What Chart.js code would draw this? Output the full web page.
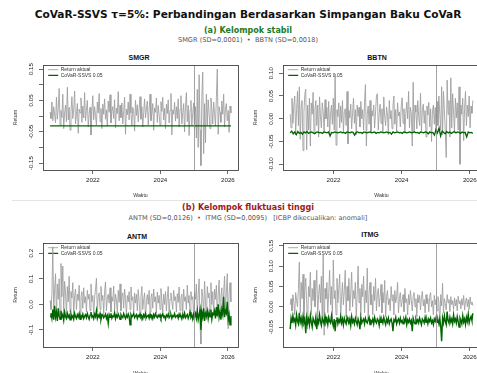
<!DOCTYPE html>
<html><head><meta charset="utf-8">
<script src="https://cdn.jsdelivr.net/npm/chart.js@4.4.1/dist/chart.umd.min.js"></script>
<style>
html,body{margin:0;padding:0;width:477px;height:373px;overflow:hidden;background:#fff;position:relative}
.t{position:absolute;left:0;width:496px;text-align:center;white-space:nowrap;font-family:"DejaVu Sans",sans-serif}
.pt{position:absolute;width:80px;text-align:center;font-family:"Liberation Sans",Arial,sans-serif;font-weight:bold;font-size:7px;line-height:8px;color:#111}
canvas{position:absolute}
#sep{position:absolute;left:12px;right:0;top:200px;height:1px;background:#e4e4e4}
</style></head><body>
<div class="t" style="top:7px;font-size:10.6px;line-height:14px;font-weight:bold;color:#111">CoVaR-SSVS τ=5%: Perbandingan Berdasarkan Simpangan Baku CoVaR</div>
<div class="t" style="top:25px;font-size:8px;line-height:11px;font-weight:bold;color:#1f7a1f">(a) Kelompok stabil</div>
<div class="t" style="top:36px;font-size:6.6px;line-height:9px;color:#555">SMGR (SD=0,0001) &nbsp;•&nbsp; BBTN (SD=0,0018)</div>
<div id="sep"></div>
<div class="t" style="top:202px;font-size:8px;line-height:11px;font-weight:bold;color:#9b1b1b">(b) Kelompok fluktuasi tinggi</div>
<div class="t" style="top:213.5px;font-size:6.6px;line-height:9px;color:#555">ANTM (SD=0,0126) &nbsp;•&nbsp; ITMG (SD=0,0095) &nbsp; [ICBP dikecualikan: anomali]</div>
<div class="pt" style="left:99px;top:54px">SMGR</div>
<div class="pt" style="left:337px;top:54px">BBTN</div>
<div class="pt" style="left:97px;top:232.5px">ANTM</div>
<div class="pt" style="left:330px;top:231px">ITMG</div>
<canvas id="c1" width="240" height="152" style="left:0;top:48px"></canvas>
<canvas id="c2" width="242" height="152" style="left:240px;top:48px"></canvas>
<canvas id="c3" width="240" height="152" style="left:0;top:226px"></canvas>
<canvas id="c4" width="242" height="152" style="left:240px;top:226px"></canvas>
<script>
// ---- time axis ----
const T_START = 2020.73, T_END = 2026.09, T_SPLIT = 2025.0;
const X_TICKS = [2022, 2024, 2026];
const X_LABELS = ['2022', '2024', '2026'];
const SERIES_NAMES = ['Return aktual', 'CoVaR-SSVS 0.05'];

// ---- SMGR ----
const smgrReturn = [
0.012,-0.008,0.045,-0.015,0.030,0.004,-0.022,0.060,-0.010,0.025,
0.088,-0.030,0.018,-0.005,0.070,-0.040,0.010,0.035,-0.018,0.092,
-0.012,0.028,-0.045,0.015,0.062,-0.008,0.020,0.080,-0.025,0.005,
0.040,-0.055,0.022,0.010,0.058,-0.020,0.032,-0.006,0.075,-0.015,
0.018,0.050,-0.035,0.008,0.028,-0.060,0.015,0.065,-0.012,0.030,
0.002,-0.028,0.045,0.010,0.072,-0.018,0.024,-0.040,0.038,0.006,
0.055,-0.010,0.020,-0.032,0.048,0.012,0.068,-0.022,0.015,0.030,
-0.008,0.052,-0.038,0.025,0.008,0.078,-0.015,0.035,-0.005,0.042,
-0.025,0.018,0.060,-0.058,0.022,0.004,0.045,-0.012,0.070,0.010,
-0.030,0.028,0.015,-0.048,0.050,0.002,0.036,-0.018,0.025,0.062,
-0.010,0.030,-0.035,0.012,0.055,-0.006,0.022,0.048,-0.028,0.018,
0.070,-0.015,0.008,0.040,-0.045,0.026,0.012,0.058,-0.020,0.034,
0.004,-0.030,0.046,0.015,0.060,-0.012,0.025,-0.040,0.038,0.008,
0.052,-0.022,0.018,0.072,-0.060,0.020,0.006,0.044,-0.016,0.030,
-0.008,0.055,-0.035,0.022,0.065,-0.025,0.012,0.040,-0.050,0.028,
0.075,-0.018,0.034,-0.062,0.018,0.050,-0.030,0.010,0.042,-0.040,
0.030,-0.070,0.085,-0.100,0.132,-0.045,-0.158,0.060,0.140,-0.120,
0.040,-0.085,0.070,-0.030,0.052,0.010,-0.040,0.058,0.020,-0.025,
0.045,0.008,-0.032,0.060,0.150,-0.058,0.030,0.012,-0.020,0.048,
0.006,0.070,-0.035,0.025,0.040,-0.015,0.018,-0.052,0.032,0.010];
const smgrCovar = [-0.0311,-0.0310,-0.0312,-0.0311,-0.0310,-0.0311,-0.0312,-0.0311,-0.0310,-0.0311];
const smgrYTicks = [-0.15,-0.10,-0.05,0,0.05,0.10,0.15];
const smgrYLabels = ['-0.15','','-0.05','','0.05','','0.15'];

// ---- BBTN ----
const bbtnReturn = [
0.010,-0.020,0.045,-0.010,0.030,0.050,-0.035,0.020,0.060,-0.015,
0.070,-0.045,0.025,0.040,-0.070,0.015,0.055,0.065,-0.068,0.030,
-0.025,0.045,-0.060,0.035,0.010,0.058,-0.030,0.020,0.040,-0.015,
0.030,-0.040,0.048,0.005,-0.020,0.035,0.015,-0.030,0.042,0.000,
0.025,-0.018,0.038,-0.035,0.010,0.030,-0.012,0.045,-0.025,0.098,
-0.058,0.020,0.005,0.035,-0.020,0.028,-0.008,0.040,-0.030,0.015,
0.022,-0.015,0.060,-0.055,0.018,0.002,0.032,-0.022,0.012,0.045,
-0.010,0.020,-0.035,0.030,0.005,0.025,-0.018,0.038,0.000,0.020,
-0.025,0.035,0.075,-0.060,0.010,0.028,-0.012,0.040,-0.030,0.018,
0.006,0.030,-0.020,0.015,0.050,0.055,-0.025,0.012,0.032,-0.010,
0.022,-0.030,0.048,0.004,-0.015,0.026,0.010,-0.035,0.040,0.000,
0.018,-0.022,0.030,0.050,-0.012,0.020,-0.028,0.035,0.006,0.015,
-0.018,0.028,0.046,-0.010,0.022,-0.032,0.012,0.036,0.000,0.060,
-0.020,0.025,0.010,-0.060,0.080,-0.030,0.030,0.015,-0.022,0.040,
0.005,-0.015,0.056,-0.028,0.020,0.032,-0.010,0.018,-0.040,0.028,
0.008,0.036,-0.018,0.022,-0.050,0.015,0.030,-0.012,0.025,-0.030,
0.038,-0.015,0.050,0.010,-0.025,0.070,-0.035,0.060,0.020,-0.030,
-0.085,0.085,0.010,0.040,-0.040,0.090,-0.020,0.055,0.015,-0.030,
0.045,0.002,0.035,-0.025,0.070,-0.100,0.030,0.010,0.045,-0.048,
0.022,0.060,-0.015,0.030,0.005,0.050,-0.020,0.028,0.012,0.040];
const bbtnCovar = [
-0.031,-0.027,-0.033,-0.029,-0.035,-0.028,-0.032,-0.030,-0.034,-0.029,
-0.031,-0.028,-0.032,-0.030,-0.029,-0.031,-0.033,-0.030,-0.029,-0.031,
-0.030,-0.032,-0.029,-0.030,-0.031,-0.029,-0.038,-0.030,-0.031,-0.029,
-0.030,-0.031,-0.030,-0.029,-0.031,-0.030,-0.032,-0.029,-0.030,-0.031,
-0.029,-0.030,-0.036,-0.030,-0.029,-0.031,-0.030,-0.032,-0.029,-0.030,
-0.031,-0.030,-0.029,-0.031,-0.030,-0.029,-0.032,-0.030,-0.031,-0.029,
-0.030,-0.031,-0.030,-0.029,-0.031,-0.030,-0.034,-0.029,-0.031,-0.030,
-0.029,-0.031,-0.030,-0.032,-0.029,-0.030,-0.031,-0.030,-0.029,-0.031,
-0.030,-0.029,-0.031,-0.030,-0.032,-0.029,-0.030,-0.031,-0.029,-0.030,
-0.033,-0.029,-0.031,-0.030,-0.036,-0.024,-0.031,-0.020,-0.038,-0.027,
-0.030,-0.033,-0.028,-0.031,-0.029,-0.032,-0.030,-0.028,-0.031,-0.029,
-0.030,-0.032,-0.029,-0.031,-0.030,-0.040,-0.029,-0.031,-0.030,-0.032];
const bbtnYTicks = [-0.10,-0.05,0,0.05,0.10];
const bbtnYLabels = ['-0.10','-0.05','0.00','0.05','0.10'];

// ---- ANTM ----
const antmReturn = [
0.015,-0.020,0.040,0.225,-0.030,0.060,0.120,-0.045,0.080,0.020,
0.100,-0.050,0.160,0.030,0.150,-0.035,0.090,0.045,-0.040,0.070,
0.010,0.110,-0.030,0.050,0.025,0.085,-0.045,0.035,0.060,-0.020,
0.040,0.015,0.075,-0.035,0.030,0.050,-0.015,0.065,0.005,0.030,
-0.030,0.055,0.020,0.040,-0.025,0.080,0.010,0.035,-0.040,0.025,
0.060,0.102,-0.030,0.030,0.045,-0.020,0.070,0.015,0.035,-0.035,
0.050,0.088,-0.025,0.025,0.040,0.005,0.065,-0.030,0.030,0.012,
0.072,-0.020,0.040,0.018,-0.035,0.055,0.008,0.080,-0.025,0.030,
0.045,-0.015,0.060,0.020,-0.040,0.035,0.010,0.050,-0.020,0.068,
0.015,0.030,-0.030,0.045,0.005,0.040,-0.025,0.058,0.012,-0.045,
0.030,0.070,-0.020,0.020,0.045,-0.065,0.015,0.038,0.000,0.055,
-0.030,0.025,0.042,-0.015,0.060,0.010,0.030,-0.035,0.048,0.005,
0.035,-0.020,0.062,0.015,-0.030,0.040,0.000,0.050,-0.025,0.028,
0.070,-0.040,0.020,0.045,0.010,-0.020,0.055,0.015,0.030,-0.030,
0.042,0.008,0.068,-0.025,0.025,0.040,-0.035,0.060,0.012,0.030,
-0.020,0.075,0.005,0.035,-0.045,0.050,0.018,0.030,-0.060,0.045,
0.020,0.080,-0.050,0.040,0.100,-0.080,-0.155,0.060,0.030,-0.040,
0.090,0.010,-0.060,0.070,0.025,0.045,-0.030,0.085,0.000,0.050,
-0.035,0.060,0.020,0.075,-0.050,0.040,0.095,-0.025,0.030,0.065,
-0.040,0.045,0.110,-0.020,0.050,0.120,-0.095,0.040,0.085,0.010];
const antmCovar = [
-0.048,-0.035,-0.055,-0.020,-0.060,-0.005,-0.050,-0.030,-0.065,-0.015,
-0.045,-0.058,-0.025,-0.050,-0.040,-0.062,-0.030,-0.048,-0.055,-0.035,
-0.050,-0.042,-0.060,-0.038,-0.052,-0.045,-0.058,-0.035,-0.048,-0.055,
-0.040,-0.050,-0.036,-0.058,-0.044,-0.050,-0.038,-0.055,-0.046,-0.040,
-0.052,-0.036,-0.048,-0.058,-0.042,-0.030,-0.050,-0.045,-0.056,-0.038,
-0.048,-0.025,-0.055,-0.042,-0.050,-0.036,-0.060,-0.045,-0.040,-0.052,
-0.046,-0.038,-0.055,-0.044,-0.074,-0.040,-0.050,-0.035,-0.054,-0.045,
-0.048,-0.032,-0.056,-0.042,-0.050,-0.038,-0.046,-0.058,-0.040,-0.048,
-0.052,-0.036,-0.046,-0.055,-0.042,-0.050,-0.038,-0.048,-0.080,-0.040,
-0.050,-0.044,-0.035,-0.052,-0.046,-0.040,-0.055,-0.043,-0.048,-0.038,
-0.050,-0.045,-0.056,-0.040,-0.048,-0.036,-0.052,-0.046,-0.042,-0.054,
-0.038,-0.048,-0.044,-0.056,-0.040,-0.050,-0.036,-0.046,-0.052,-0.042,
-0.048,-0.040,-0.054,-0.044,-0.036,-0.050,-0.046,-0.058,-0.042,-0.048,
-0.038,-0.052,-0.045,-0.040,-0.055,-0.044,-0.048,-0.036,-0.050,-0.046,
-0.042,-0.054,-0.038,-0.048,-0.045,-0.056,-0.040,-0.050,-0.034,-0.052,
-0.046,-0.040,-0.055,-0.044,-0.030,-0.050,-0.042,-0.058,-0.038,-0.048,
-0.035,-0.055,-0.025,-0.060,-0.040,-0.020,-0.100,-0.030,-0.050,-0.015,
-0.065,-0.035,-0.045,-0.025,-0.055,-0.030,-0.048,-0.020,-0.058,-0.035,
-0.040,-0.025,-0.055,-0.010,-0.045,0.000,-0.050,-0.030,-0.060,-0.020,
-0.040,0.030,-0.050,-0.025,-0.035,0.010,-0.060,-0.040,-0.080,-0.045];
const antmYTicks = [-0.1,0,0.1,0.2];
const antmYLabels = ['-0.1','0.0','0.1','0.2'];

// ---- ITMG ----
const itmgReturn = [
0.005,0.020,-0.010,0.030,0.010,-0.020,0.035,0.015,0.000,0.045,
0.110,-0.015,0.060,0.020,0.080,-0.030,0.040,0.070,0.010,-0.055,
0.050,0.025,0.085,-0.020,0.045,0.015,0.065,0.000,0.040,0.090,
-0.025,0.030,0.055,0.010,0.075,-0.040,0.130,-0.070,0.045,0.020,
0.060,-0.015,0.035,0.090,0.005,0.050,-0.030,0.115,0.020,0.040,
-0.020,0.070,0.010,0.045,0.080,-0.035,0.025,0.060,0.005,0.040,
0.090,-0.025,0.050,0.015,0.070,-0.010,0.035,0.085,0.000,0.040,
0.020,0.060,-0.030,0.030,0.100,0.010,0.045,-0.020,0.055,0.025,
0.075,-0.015,0.040,0.010,0.095,-0.030,0.035,0.060,0.005,0.030,
-0.020,0.050,0.015,0.070,-0.010,0.030,0.045,0.000,0.025,0.055,
-0.015,0.035,0.010,0.065,-0.025,0.025,0.040,0.005,0.020,-0.010,
0.050,0.015,0.030,-0.020,0.040,0.010,0.025,0.060,-0.015,0.020,
0.035,0.000,0.015,0.030,-0.012,0.045,0.010,0.020,-0.020,0.030,
0.005,0.040,0.015,-0.010,0.025,0.035,0.000,0.020,-0.025,0.030,
0.010,0.028,-0.008,0.022,0.038,0.002,0.018,-0.015,0.030,0.008,
0.020,-0.012,0.025,0.035,0.000,0.015,-0.020,0.028,0.005,0.018,
-0.010,0.025,0.012,-0.050,0.030,0.002,0.058,-0.015,0.020,0.008,
-0.008,0.030,0.010,0.018,-0.012,0.025,0.005,0.015,-0.006,0.022,
0.002,0.018,-0.010,0.026,0.008,0.015,-0.005,0.020,0.004,0.028,
-0.008,0.012,0.022,0.000,0.018,-0.006,0.024,0.006,0.012,0.003];
const itmgCovar = [
-0.055,-0.028,-0.040,-0.022,-0.036,-0.030,-0.045,-0.020,-0.035,-0.042,
-0.015,-0.038,-0.028,-0.044,-0.024,-0.040,-0.032,-0.065,-0.026,-0.040,
-0.030,-0.045,-0.022,-0.038,-0.050,-0.028,-0.036,-0.042,-0.025,-0.055,
-0.032,-0.040,-0.020,-0.036,-0.046,-0.028,-0.034,-0.042,-0.024,-0.038,
-0.030,-0.044,-0.026,-0.036,-0.040,-0.022,-0.038,-0.048,-0.030,-0.060,
-0.034,-0.026,-0.042,-0.032,-0.038,-0.024,-0.040,-0.030,-0.045,-0.028,
-0.036,-0.042,-0.026,-0.034,-0.040,-0.030,-0.046,-0.024,-0.038,-0.032,
-0.042,-0.028,-0.036,-0.044,-0.030,-0.038,-0.055,-0.026,-0.040,-0.034,
-0.030,-0.042,-0.028,-0.036,-0.040,-0.032,-0.026,-0.044,-0.034,-0.038,
-0.030,-0.042,-0.026,-0.036,-0.040,-0.030,-0.034,-0.046,-0.028,-0.038,
-0.032,-0.040,-0.026,-0.036,-0.044,-0.030,-0.038,-0.028,-0.042,-0.034,
-0.030,-0.040,-0.060,-0.032,-0.036,-0.026,-0.042,-0.034,-0.030,-0.040,
-0.028,-0.038,-0.034,-0.042,-0.030,-0.036,-0.026,-0.044,-0.032,-0.038,
-0.030,-0.040,-0.034,-0.060,-0.028,-0.036,-0.042,-0.030,-0.038,-0.032,
-0.040,-0.028,-0.036,-0.044,-0.030,-0.034,-0.040,-0.026,-0.038,-0.032,
-0.042,-0.030,-0.036,-0.028,-0.040,-0.034,-0.044,-0.030,-0.036,-0.026,
-0.038,-0.032,-0.042,-0.030,-0.048,-0.085,-0.028,-0.040,-0.022,-0.036,
-0.044,-0.012,-0.034,-0.040,-0.026,-0.038,-0.030,-0.042,-0.020,-0.036,
-0.030,-0.040,-0.024,-0.036,-0.050,-0.028,-0.034,-0.042,-0.022,-0.038,
-0.030,-0.044,-0.026,-0.036,-0.018,-0.040,-0.030,-0.024,-0.034,-0.016];
const itmgYTicks = [-0.05,0,0.05,0.10,0.15];
const itmgYLabels = ['-0.05','0.00','0.05','0.10','0.15'];

// ---- rendering ----
const FONT = '"Liberation Sans", Arial, sans-serif';
const TICK_FS = 6.2;
Chart.defaults.font.family = FONT;
Chart.defaults.color = '#222';

function toPoints(vals) {
  const n = vals.length;
  return vals.map((v, i) => ({x: T_START + (T_END - T_START) * i / (n - 1), y: v}));
}
const measureCtx = document.createElement('canvas').getContext('2d');
function yPad(labels) {
  measureCtx.font = TICK_FS + 'px ' + FONT;
  const w = Math.max(...labels.map(s => measureCtx.measureText(s).width));
  return 11.5 - 4 - w / 2;
}

const frame = {
  id: 'frame',
  afterLayout(chart) {
    const a = chart.chartArea, lg = chart.legend;
    if (lg) { lg.left = a.left + 4.5; lg.top = a.top + 1.5; }
  },
  afterDatasetsDraw(chart) {
    const {ctx, chartArea: a, scales: {x}} = chart;
    ctx.save();
    const px = Math.round(x.getPixelForValue(T_SPLIT)) + 0.5;
    ctx.strokeStyle = '#8a8a8a'; ctx.lineWidth = 0.8;
    ctx.beginPath(); ctx.moveTo(px, a.top); ctx.lineTo(px, a.bottom); ctx.stroke();
    ctx.strokeStyle = '#444'; ctx.lineWidth = 0.9;
    ctx.strokeRect(Math.round(a.left) + 0.5, Math.round(a.top) + 0.5, Math.round(a.right - a.left), Math.round(a.bottom - a.top));
    ctx.restore();
  }
};

const panels = [
  {id: 'c1', ret: smgrReturn, cov: smgrCovar, yMin: -0.172, yMax: 0.163, ticks: smgrYTicks, labels: smgrYLabels, xh: 30, gw: 1.3},
  {id: 'c2', ret: bbtnReturn, cov: bbtnCovar, yMin: -0.1125, yMax: 0.118, ticks: bbtnYTicks, labels: bbtnYLabels, xh: 30, gw: 1.3},
  {id: 'c3', ret: antmReturn, cov: antmCovar, yMin: -0.1665, yMax: 0.240, ticks: antmYTicks, labels: antmYLabels, xh: 31, gw: 1.4},
  {id: 'c4', ret: itmgReturn, cov: itmgCovar, yMin: -0.099, yMax: 0.157, ticks: itmgYTicks, labels: itmgYLabels, xh: 31, gw: 1.4}
];

panels.forEach(p => {
  new Chart(document.getElementById(p.id), {
    type: 'line',
    data: {
      datasets: [
        {label: SERIES_NAMES[0], data: toPoints(p.ret), borderColor: '#9c9c9c', backgroundColor: '#9c9c9c', borderWidth: 0.85, order: 2},
        {label: SERIES_NAMES[1], data: toPoints(p.cov), borderColor: '#006400', backgroundColor: '#006400', borderWidth: p.gw, order: 1}
      ]
    },
    options: {
      responsive: false, animation: false, parsing: false, normalized: true,
      events: [],
      elements: {point: {radius: 0}, line: {tension: 0, borderJoinStyle: 'miter'}},
      layout: {autoPadding: false, padding: {left: 0, top: 17, right: 2, bottom: 0}},
      plugins: {
        tooltip: {enabled: false},
        legend: {
          position: 'chartArea', align: 'start',
          labels: {
            sort: (a, b) => a.datasetIndex - b.datasetIndex,
            usePointStyle: true, pointStyle: 'line', pointStyleWidth: 10, boxHeight: 5,
            padding: 0.7, color: '#333', font: {size: 5}
          }
        }
      },
      scales: {
        x: {
          type: 'linear', min: 2020.52, max: 2026.30,
          afterBuildTicks: s => { s.ticks = X_TICKS.map(v => ({value: v})); },
          afterFit: s => { s.height = p.xh; },
          ticks: {autoSkip: false, maxRotation: 0, padding: 3, font: {size: TICK_FS}, color: '#222',
                  callback: (v, i) => X_LABELS[i]},
          grid: {drawOnChartArea: false, drawTicks: true, tickLength: 4, color: '#444', lineWidth: 0.8},
          border: {display: false},
          title: {display: true, text: 'Waktu', font: {size: 5.2}, color: '#333', padding: {top: 0, bottom: 1.8}}
        },
        y: {
          type: 'linear', min: p.yMin, max: p.yMax,
          afterBuildTicks: s => { s.ticks = p.ticks.map(v => ({value: v})); },
          afterFit: s => { s.width = 43; },
          ticks: {autoSkip: false, minRotation: 90, maxRotation: 90, crossAlign: 'center',
                  padding: yPad(p.labels), font: {size: TICK_FS}, color: '#222',
                  callback: (v, i) => p.labels[i]},
          grid: {drawOnChartArea: false, drawTicks: true, tickLength: 4, color: '#444', lineWidth: 0.8},
          border: {display: false},
          title: {display: true, text: 'Return', font: {size: 5.2}, color: '#333', padding: {top: 12.5, bottom: 0}}
        }
      }
    },
    plugins: [frame]
  });
});
</script>
</body></html>
